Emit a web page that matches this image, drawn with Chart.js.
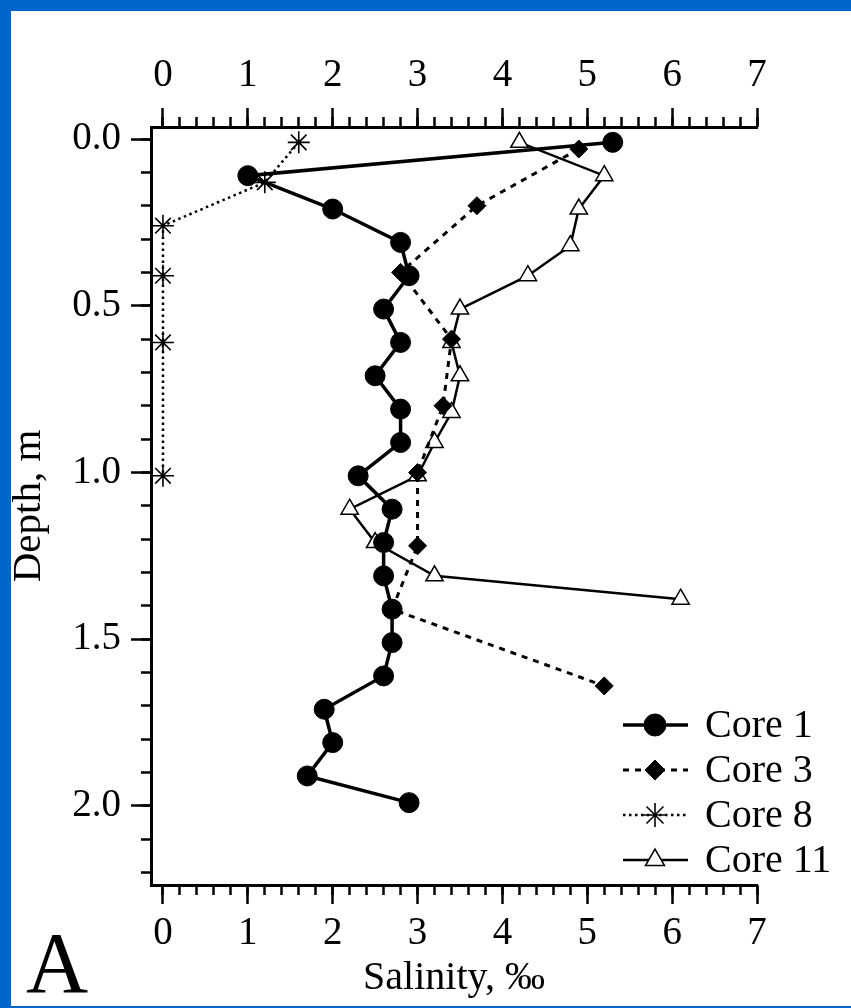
<!DOCTYPE html>
<html>
<head>
<meta charset="utf-8">
<script src="https://cdn.jsdelivr.net/npm/chart.js@4.4.1/dist/chart.umd.min.js"></script>
<style>
  html, body { margin: 0; padding: 0; background: #fff; width: 851px; height: 1008px; overflow: hidden; }
  canvas { display: block; }
</style>
</head>
<body>
<canvas id="chart1" width="851" height="1008"></canvas>
<script>
// salinity (‰) against sample depth (m) for each core
const core1Sal   = [5.3, 1.0, 2.0, 2.8, 2.9, 2.6, 2.8, 2.5, 2.8, 2.8, 2.3, 2.7, 2.6, 2.6, 2.7, 2.7, 2.6, 1.9, 2.0, 1.7, 2.9];
const core1Depth = [0.01, 0.11, 0.21, 0.31, 0.41, 0.51, 0.61, 0.71, 0.81, 0.91, 1.01, 1.11, 1.21, 1.31, 1.41, 1.51, 1.61, 1.71, 1.81, 1.91, 1.99];

const core3Sal   = [4.9, 3.7, 2.8, 3.4, 3.3, 3.0, 3.0, 2.7, 5.2];
const core3Depth = [0.03, 0.20, 0.40, 0.60, 0.80, 1.00, 1.22, 1.41, 1.64];

const core8Sal   = [1.6, 1.2, 0.0, 0.0, 0.0, 0.0];
const core8Depth = [0.01, 0.13, 0.26, 0.41, 0.61, 1.01];

const core11Sal   = [4.2, 5.2, 4.9, 4.8, 4.3, 3.5, 3.4, 3.5, 3.4, 3.2, 3.0, 2.2, 2.5, 3.2, 6.1];
const core11Depth = [0.01, 0.11, 0.21, 0.32, 0.41, 0.51, 0.61, 0.71, 0.82, 0.91, 1.01, 1.11, 1.21, 1.31, 1.38];

const coreNames = ['Core 1', 'Core 3', 'Core 8', 'Core 11'];
const xTickLabels = ['0', '1', '2', '3', '4', '5', '6', '7'];
const yTickLabels = ['0.0', '0.5', '1.0', '1.5', '2.0'];

const X_MIN = -0.141, X_MAX = 7;
const Y_MIN = -0.036, Y_MAX = 2.237;
const FONT = "'Liberation Serif', 'Times New Roman', serif";

function toPoints(xs, ys){
    var pts = new Array();
    for(var i = 0; i < xs.length; i++){
        pts.push({x: xs[i], y: ys[i]});
    }
    return pts;
}

// one axis for the labelled ticks, one for the short in-between ticks
function xAxis(position, weight, step, major){
    return {
        type: 'linear', position: position, weight: weight,
        min: X_MIN, max: X_MAX,
        ticks: {
            display: major, stepSize: step, includeBounds: false, autoSkip: false, maxTicksLimit: 100,
            maxRotation: 0, padding: position == 'top' ? 9 : 6,
            color: '#000', font: {family: FONT, size: 39},
            callback: function(v){ return xTickLabels[Math.round(v)]; }
        },
        grid: {drawOnChartArea: false, drawTicks: true, tickLength: major ? 19 : 10, tickWidth: 2.5, tickColor: '#000'},
        border: {display: major, width: 3, color: '#000'},
        title: position == 'bottom' && major ? {display: true, text: 'Salinity, ‰', color: '#000', font: {family: FONT, size: 40}, padding: {top: 0, bottom: 6}} : {display: false},
        afterFit: function(s){ s.height = major ? (position == 'top' ? 127 : 123) : 0; }
    };
}

function yAxis(weight, step, major){
    return {
        type: 'linear', position: 'left', weight: weight, reverse: true,
        min: Y_MIN, max: Y_MAX,
        ticks: {
            display: major, stepSize: step, includeBounds: false, autoSkip: false, maxTicksLimit: 100,
            padding: 10, color: '#000', font: {family: FONT, size: 39},
            callback: function(v){ return yTickLabels[Math.round(v * 2)]; }
        },
        grid: {drawOnChartArea: false, drawTicks: true, tickLength: major ? 20 : 10, tickWidth: 2.5, tickColor: '#000'},
        border: {display: major, width: 3, color: '#000'},
        title: major ? {display: true, text: 'Depth, m', color: '#000', font: {family: FONT, size: 41}, padding: {top: 5, bottom: 0}} : {display: false},
        afterFit: function(s){ s.width = major ? 151 : 0; }
    };
}

// blue page edge on the left, top and bottom
const pageEdge = {
    id: 'pageEdge',
    beforeDraw: function(chart){
        var ctx = chart.ctx;
        ctx.save();
        ctx.fillStyle = '#fff';
        ctx.fillRect(0, 0, chart.width, chart.height);
        ctx.fillStyle = '#0066cc';
        ctx.fillRect(0, 0, 11, chart.height);
        ctx.fillRect(0, 0, chart.width, 11);
        ctx.fillRect(0, chart.height - 2, chart.width, 2);
        ctx.restore();
    }
};

// legend drawn in the lower right, using each dataset's own style
const cornerLegend = {
    id: 'cornerLegend',
    afterDraw: function(chart){
        var ctx = chart.ctx;
        var rows = [725, 770, 815, 860];
        ctx.save();
        chart.data.datasets.forEach(function(ds, i){
            var y = rows[i];
            ctx.beginPath();
            ctx.setLineDash(ds.borderDash || []);
            ctx.lineWidth = ds.borderWidth;
            ctx.strokeStyle = '#000';
            ctx.moveTo(623, y);
            ctx.lineTo(688, y);
            ctx.stroke();
            ctx.setLineDash([]);
            ctx.fillStyle = ds.pointBackgroundColor;
            ctx.strokeStyle = '#000';
            ctx.lineWidth = ds.pointBorderWidth;
            Chart.helpers.drawPoint(ctx, {pointStyle: ds.pointStyle, radius: ds.pointRadius + 1, rotation: 0, borderWidth: ds.pointBorderWidth}, 655, y);
            ctx.fillStyle = '#000';
            ctx.font = '40px ' + FONT;
            ctx.textBaseline = 'middle';
            ctx.textAlign = 'left';
            ctx.fillText(ds.label, 705, y + 1);
        });
        // panel letter
        ctx.font = '86px ' + FONT;
        ctx.textBaseline = 'alphabetic';
        ctx.fillText('A', 26, 992);
        ctx.restore();
    }
};

const chart1 = document.getElementById('chart1').getContext('2d');
var mychart = new Chart(chart1, {
    type: 'scatter',
    data: {
        datasets: [{
            label: coreNames[0],
            data: toPoints(core1Sal, core1Depth),
            showLine: true, borderColor: '#000', borderWidth: 3.5,
            pointStyle: 'circle', pointRadius: 10, pointBackgroundColor: '#000', pointBorderColor: '#000', pointBorderWidth: 1
        },
        {
            label: coreNames[1],
            data: toPoints(core3Sal, core3Depth),
            showLine: true, borderColor: '#000', borderWidth: 3, borderDash: [6, 6],
            pointStyle: 'rectRot', pointRadius: 9, pointBackgroundColor: '#000', pointBorderColor: '#000', pointBorderWidth: 1
        },
        {
            label: coreNames[2],
            data: toPoints(core8Sal, core8Depth),
            showLine: true, borderColor: '#000', borderWidth: 2.5, borderDash: [2.5, 3.5],
            pointStyle: 'star', pointRadius: 11, pointBackgroundColor: '#000', pointBorderColor: '#000', pointBorderWidth: 1.6
        },
        {
            label: coreNames[3],
            data: toPoints(core11Sal, core11Depth),
            showLine: true, borderColor: '#000', borderWidth: 2.5,
            pointStyle: 'triangle', pointRadius: 10, pointBackgroundColor: '#fff', pointBorderColor: '#000', pointBorderWidth: 1.5
        }]
    },
    options: {
        responsive: false,
        animation: false,
        clip: false,
        layout: {padding: {left: 0, right: 94, top: 0, bottom: 0}},
        plugins: {legend: {display: false}, tooltip: {enabled: false}},
        elements: {line: {tension: 0}},
        scales: {
            x: xAxis('bottom', 1, 1, true),
            xMinor: xAxis('bottom', 0, 0.2, false),
            xTop: xAxis('top', 1, 1, true),
            xTopMinor: xAxis('top', 0, 0.2, false),
            y: yAxis(1, 0.5, true),
            yMinor: yAxis(0, 0.1, false)
        }
    },
    plugins: [pageEdge, cornerLegend]
});
</script>
</body>
</html>
